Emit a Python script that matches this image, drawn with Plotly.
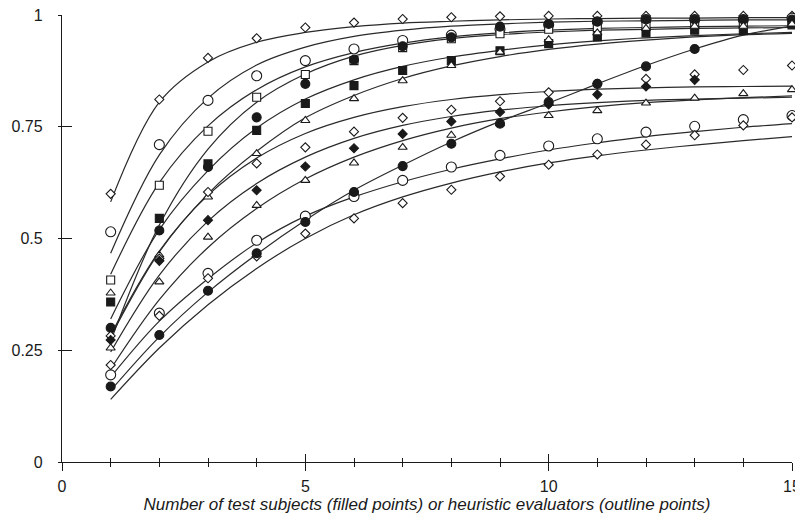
import plotly.graph_objects as go

# ---------------- data ----------------
x_vals = list(range(1, 16))

# observed points (proportion of problems found), x = 1..15
pts_diamond_top = [0.600, 0.811, 0.904, 0.948, 0.972, 0.983, 0.991, 0.995, 0.997, 0.998, 0.998, 0.998, 0.998, 0.998, 0.998]
pts_circle_top = [0.515, 0.710, 0.809, 0.864, 0.898, 0.924, 0.943, 0.955, 0.968, 0.978, 0.985, 0.990, 0.990, 0.990, 0.993]
pts_square_open = [0.407, 0.619, 0.740, 0.816, 0.867, 0.898, 0.927, 0.947, 0.958, 0.968, 0.972, 0.976, 0.978, 0.980, 0.982]
pts_square_filled = [0.358, 0.545, 0.667, 0.742, 0.802, 0.842, 0.876, 0.898, 0.920, 0.936, 0.951, 0.960, 0.966, 0.965, 0.978]
pts_circle_filled_top = [0.300, 0.518, 0.660, 0.771, 0.846, 0.900, 0.930, 0.950, 0.974, 0.980, 0.985, 0.990, 0.990, 0.990, 0.990]
pts_triangle_top = [0.378, 0.463, 0.593, 0.690, 0.764, 0.813, 0.853, 0.887, 0.917, 0.945, 0.960, 0.970, 0.975, 0.975, 0.980]
pts_diamond_mid = [0.282, 0.455, 0.604, 0.668, 0.704, 0.739, 0.770, 0.788, 0.807, 0.827, 0.846, 0.857, 0.867, 0.877, 0.887]
pts_diamond_filled = [0.273, 0.450, 0.541, 0.608, 0.661, 0.702, 0.734, 0.762, 0.783, 0.800, 0.822, 0.840, 0.855, None, None]
pts_triangle_low = [0.255, 0.403, 0.503, 0.574, 0.630, 0.669, 0.704, 0.731, 0.757, 0.775, 0.786, 0.803, 0.814, 0.824, 0.833]
pts_circle_low = [0.195, 0.333, 0.422, 0.496, 0.550, 0.594, 0.630, 0.660, 0.686, 0.707, 0.723, 0.738, 0.751, 0.766, 0.775]
pts_diamond_low = [0.217, 0.327, 0.411, 0.460, 0.511, 0.545, 0.579, 0.609, 0.639, 0.665, 0.688, 0.710, 0.731, 0.753, 0.771]
pts_circle_filled_low = [0.169, 0.284, 0.383, 0.467, 0.537, 0.604, 0.662, 0.712, 0.757, 0.805, 0.846, 0.885, 0.924, None, None]

# fitted curves, read at x = 1..15
fit_diamond_top = [0.582, 0.805, 0.895, 0.939, 0.961, 0.974, 0.982, 0.986, 0.989, 0.991, 0.992, 0.993, 0.993, 0.994, 0.994]
fit_circle_top = [0.467, 0.687, 0.814, 0.888, 0.928, 0.952, 0.966, 0.975, 0.980, 0.984, 0.986, 0.987, 0.988, 0.989, 0.989]
fit_square_open = [0.420, 0.625, 0.752, 0.833, 0.884, 0.916, 0.937, 0.951, 0.960, 0.966, 0.970, 0.972, 0.974, 0.975, 0.976]
fit_circle_filled_top = [0.270, 0.530, 0.700, 0.805, 0.868, 0.908, 0.932, 0.947, 0.956, 0.962, 0.966, 0.968, 0.970, 0.971, 0.972]
fit_square_filled = [0.320, 0.520, 0.652, 0.747, 0.812, 0.855, 0.885, 0.906, 0.921, 0.933, 0.942, 0.949, 0.954, 0.958, 0.961]
fit_triangle_top = [0.280, 0.470, 0.600, 0.695, 0.770, 0.820, 0.858, 0.886, 0.907, 0.923, 0.935, 0.944, 0.951, 0.956, 0.959]
fit_diamond_mid = [0.284, 0.472, 0.597, 0.680, 0.735, 0.771, 0.795, 0.811, 0.822, 0.829, 0.834, 0.837, 0.839, 0.840, 0.841]
fit_diamond_filled = [0.246, 0.418, 0.539, 0.623, 0.682, 0.724, 0.753, 0.773, 0.787, 0.797, 0.804, 0.809, 0.812, 0.814, 0.816]
fit_triangle_low = [0.208, 0.363, 0.480, 0.567, 0.633, 0.682, 0.719, 0.747, 0.768, 0.783, 0.795, 0.804, 0.810, 0.815, 0.819]
fit_circle_low = [0.190, 0.315, 0.410, 0.490, 0.550, 0.593, 0.627, 0.655, 0.678, 0.698, 0.714, 0.728, 0.739, 0.749, 0.757]
fit_diamond_low = [0.140, 0.255, 0.352, 0.433, 0.500, 0.553, 0.593, 0.624, 0.649, 0.669, 0.685, 0.698, 0.709, 0.719, 0.728]
fit_circle_filled_low = [0.160, 0.280, 0.380, 0.465, 0.541, 0.608, 0.664, 0.716, 0.762, 0.803, 0.846, 0.887, 0.924, 0.955, 0.975]

x_tick_vals = [0, 5, 10, 15]
x_tick_text = ["0", "5", "10", "15"]
y_tick_vals = [0, 0.25, 0.5, 0.75, 1]
y_tick_text = ["0", "0.25", "0.5", "0.75", "1"]
x_title = "Number of test subjects (filled points) or heuristic evaluators (outline points)"

# ---------------- figure ----------------
INK = "#1a1a1a"
series = [
    (pts_diamond_top, fit_diamond_top, "diamond", False, 7),
    (pts_circle_top, fit_circle_top, "circle", False, 10),
    (pts_square_open, fit_square_open, "square", False, 8),
    (pts_circle_filled_top, fit_circle_filled_top, "circle", True, 9),
    (pts_square_filled, fit_square_filled, "square", True, 8),
    (pts_triangle_top, fit_triangle_top, "triangle-up", False, 8),
    (pts_diamond_mid, fit_diamond_mid, "diamond", False, 7),
    (pts_diamond_filled, fit_diamond_filled, "diamond", True, 7),
    (pts_triangle_low, fit_triangle_low, "triangle-up", False, 8),
    (pts_circle_low, fit_circle_low, "circle", False, 10),
    (pts_diamond_low, fit_diamond_low, "diamond", False, 7),
    (pts_circle_filled_low, fit_circle_filled_low, "circle", True, 9),
]

fig = go.Figure()
for _, fit, _, _, _ in series:
    fig.add_trace(go.Scatter(
        x=x_vals, y=fit, mode="lines", line=dict(color="#2a2a2a", width=1.2, shape="spline", smoothing=1.0),
        hoverinfo="skip", showlegend=False, cliponaxis=False))
for pts, _, sym, filled, size in series:
    fig.add_trace(go.Scatter(
        x=x_vals, y=pts, mode="markers", showlegend=False, cliponaxis=False,
        marker=dict(symbol=sym, size=size, color=INK if filled else "white",
                    line=dict(color=INK, width=1.1))))

# invisible trace so the overlay axes (inner half of crossing ticks) are drawn
fig.add_trace(go.Scatter(x=[None], y=[None], xaxis="x2", yaxis="y2", showlegend=False, hoverinfo="skip"))

font_family = "Liberation Sans, Arial, sans-serif"
fig.update_layout(
    width=795, height=506,
    margin=dict(l=54, r=11, t=7, b=52, autoexpand=False),
    paper_bgcolor="white", plot_bgcolor="white",
    font=dict(family=font_family, color=INK, size=16),
    xaxis=dict(range=[0, 15], showgrid=False, zeroline=False, showline=True, linecolor=INK, linewidth=1.3,
               automargin=False, ticklabeloverflow="allow",
               tickvals=x_tick_vals, ticktext=x_tick_text, ticks="outside", ticklen=8, tickwidth=1.2, tickcolor=INK,
               minor=dict(dtick=1, ticks="outside", ticklen=4, tickwidth=1, tickcolor=INK),
               tickfont=dict(size=16), ticklabelstandoff=2,
               title=dict(text="<i>" + x_title + "</i>", font=dict(size=17), standoff=4)),
    yaxis=dict(range=[0, 1], showgrid=False, zeroline=False, showline=True, linecolor=INK, linewidth=1.3,
               automargin=False, ticklabeloverflow="allow",
               tickvals=y_tick_vals, ticktext=y_tick_text, ticks="outside", ticklen=3, tickwidth=1.2, tickcolor=INK,
               tickfont=dict(size=16), ticklabelstandoff=12),
    xaxis2=dict(overlaying="x", matches="x", range=[0, 15], anchor="y2", showgrid=False, zeroline=False, showline=False,
                automargin=False,
                tickvals=x_tick_vals, ticks="inside", ticklen=8, tickwidth=1.2, tickcolor=INK, showticklabels=False,
                minor=dict(dtick=1, ticks="inside", ticklen=4, tickwidth=1, tickcolor=INK)),
    yaxis2=dict(overlaying="y", matches="y", range=[0, 1], anchor="x2", showgrid=False, zeroline=False, showline=False,
                automargin=False,
                tickvals=y_tick_vals, ticks="inside", ticklen=10, tickwidth=1.2, tickcolor=INK, showticklabels=False),
)

fig.write_html("out.html")
